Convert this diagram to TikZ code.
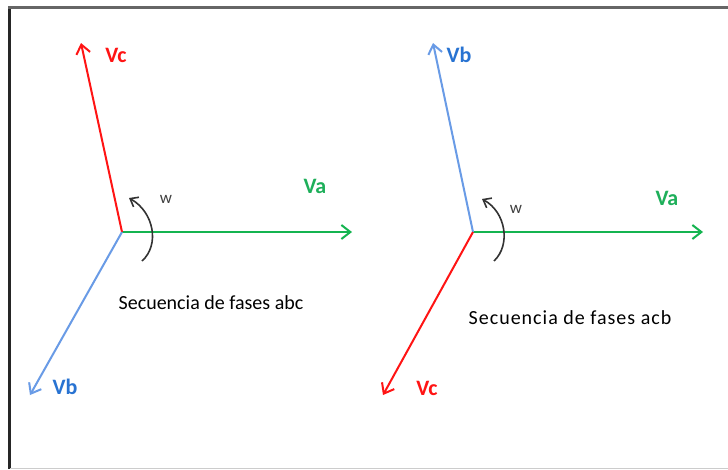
\documentclass[tikz,border=0pt]{standalone}
\usepackage{fontspec}
\setmainfont{Carlito}
\newfontfamily\spacedfont[LetterSpace=5]{Carlito}
\usetikzlibrary{arrows.meta}
\definecolor{vred}{RGB}{255,20,20}
\definecolor{vblue}{RGB}{105,155,230}
\definecolor{vbluetext}{RGB}{40,115,210}
\definecolor{vgreen}{RGB}{20,180,80}
\definecolor{vgreentext}{RGB}{30,175,90}
\begin{document}
\begin{tikzpicture}[x=1pt,y=-1pt,
  vec/.style={line width=2pt,-{Straight Barb[length=9pt,width=14pt,line width=2pt]}},
  rot/.style={line width=1.6pt,draw=black!80,-{Straight Barb[length=7pt,width=11pt,line width=1.6pt]}},
  lbl/.style={font=\fontsize{22}{24}\selectfont\bfseries,inner sep=0pt},
  wlbl/.style={font=\fontsize{17}{19}\selectfont,inner sep=0pt,text=black!75},
  seqtext/.style={font=\fontsize{20}{22}\selectfont,inner sep=0pt}]
\useasboundingbox (0,0) rectangle (728,469);
\fill[white] (0,0) rectangle (728,469);
% frame
\draw[line width=3pt,black!85] (9,469) -- (9,7);
\draw[line width=3pt,black!60] (8,7) -- (728,7);
\draw[line width=0.8pt,black!20] (10,468) -- (728,468);
% left diagram (abc)
\coordinate (O1) at (122,232);
\coordinate (A1) at (352,232);
\coordinate (C1) at (81,43);
\coordinate (B1) at (30,395);
\draw[vec,vgreen] (O1) -- (A1);
\draw[vec,vred] (O1) -- (C1);
\draw[vec,vblue] (O1) -- (B1);
\coordinate (R1s) at (142,261);
\coordinate (R1e) at (129,198);
\draw[rot] (R1s) .. controls (160,245) and (154,212) .. (R1e);
\node[lbl,text=vred] (LC1) at (116,55) {Vc};
\node[lbl,text=vgreentext] (LA1) at (315,186) {Va};
\node[lbl,text=vbluetext] (LB1) at (65,387) {Vb};
\node[wlbl] (W1) at (166,199) {w};
\node[seqtext] (T1) at (211,303) {Secuencia de fases abc};
% right diagram (acb)
\coordinate (O2) at (473,232);
\coordinate (A2) at (703,232);
\coordinate (B2) at (433,43);
\coordinate (C2) at (383,395);
\draw[vec,vgreen] (O2) -- (A2);
\draw[vec,vblue] (O2) -- (B2);
\draw[vec,vred] (O2) -- (C2);
\coordinate (R2s) at (494,261);
\coordinate (R2e) at (482,199);
\draw[rot] (R2s) .. controls (511,245) and (506,212) .. (R2e);
\node[lbl,text=vbluetext] (LB2) at (459,55) {Vb};
\node[lbl,text=vgreentext] (LA2) at (667,198) {Va};
\node[lbl,text=vred] (LC2) at (427,388) {Vc};
\node[wlbl] (W2) at (516,209) {w};
\node[seqtext] (T2) at (570,318) {\spacedfont Secuencia de fases acb};
\end{tikzpicture}
\end{document}
